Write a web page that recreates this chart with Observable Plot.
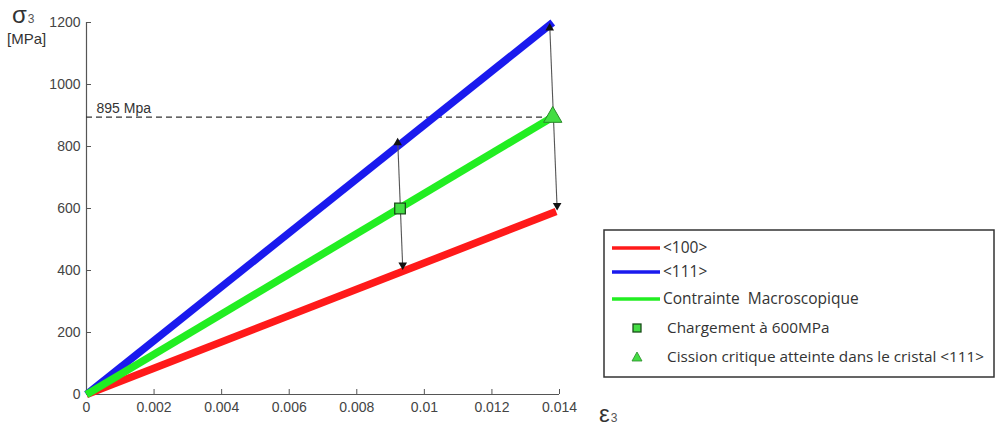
<!DOCTYPE html>
<html>
<head>
<meta charset="utf-8">
<script src="https://cdn.jsdelivr.net/npm/d3@7"></script>
<script src="https://cdn.jsdelivr.net/npm/@observablehq/plot@0.6"></script>
<style>
  body { margin: 0; background: #fff; }
  #wrap { position: relative; width: 996px; height: 427px; overflow: hidden; font-family: "Liberation Sans", Arial, sans-serif; }
  #legend { position: absolute; left: 0; top: 0; }
  #legend text { white-space: pre; }
</style>
</head>
<body>
<div id="wrap"></div>
<script>
// ---- data ----
const seriesNames = ["<100>", "<111>", "Contrainte  Macroscopique"];
const seriesColors = ["#ff1a1a", "#1a1aee", "#22ee22"];
const strainEnd = [0.0139, 0.0138, 0.0138];   // ε3 at end of each line
const stressEnd = [590, 1200, 895];            // σ3 (MPa) at end of each line

const markerNames = ["Chargement à 600MPa", "Cission critique atteinte dans le cristal <111>"];
const markerStrain = [0.00928, 0.0138];
const markerStress = [600, 895];

// arrows: [top, bottom] tips
const arrowTopStrain = [0.00921, 0.01371];
const arrowTopStress = [822, 1192];
const arrowBotStrain = [0.00936, 0.01393];
const arrowBotStress = [408, 600];

const refStress = 895;
const refLabel = "895 Mpa";

const xTicks = [0, 0.002, 0.004, 0.006, 0.008, 0.01, 0.012, 0.014];
const yTicks = [0, 200, 400, 600, 800, 1000, 1200];

// ---- derived tables ----
const lines = [];
seriesNames.forEach((name, i) => {
  lines.push({name, eps: 0, sig: 0});
  lines.push({name, eps: strainEnd[i], sig: stressEnd[i]});
});
const markers = markerNames.map((name, i) => ({name, eps: markerStrain[i], sig: markerStress[i]}));
const arrows = arrowTopStrain.map((_, i) => ({
  x1: arrowTopStrain[i], y1: arrowTopStress[i], x2: arrowBotStrain[i], y2: arrowBotStress[i]
}));
const tops = arrows.map(a => ({eps: a.x1, sig: a.y1}));
const bots = arrows.map(a => ({eps: a.x2, sig: a.y2}));

const tickCol = "#555";
const fmt = d => String(+d.toFixed(3));

const chart = Plot.plot({
  width: 996,
  height: 427,
  marginLeft: 86,
  marginTop: 22,
  marginBottom: 33,
  marginRight: 437,
  style: {fontFamily: "'Liberation Sans', Arial, sans-serif", fontSize: "14px", color: "#444", background: "#fff"},
  x: {domain: [0, 0.014], ticks: xTicks},
  y: {domain: [0, 1200], ticks: yTicks},
  color: {domain: seriesNames, range: seriesColors},
  marks: [
    Plot.axisX({ticks: xTicks, tickFormat: fmt, tickSize: -5, tickPadding: 13, stroke: tickCol, label: null, fontSize: 14}),
    Plot.axisY({ticks: yTicks, tickFormat: d => String(d), tickSize: -5, tickPadding: 11, stroke: tickCol, label: null, fontSize: 14}),
    Plot.ruleX([0], {stroke: tickCol, strokeWidth: 1.2}),
    Plot.ruleY([0], {stroke: tickCol, strokeWidth: 1.2}),
    Plot.ruleY([refStress], {x1: 0, x2: markerStrain[1], stroke: "#333", strokeWidth: 1.2, strokeDasharray: "6,4"}),
    Plot.text([refLabel], {x: 0, y: refStress, text: d => d, textAnchor: "start", dx: 10, dy: -9, fontSize: 14, fill: "#333"}),
    Plot.line(lines, {x: "eps", y: "sig", z: "name", stroke: "name", strokeWidth: 7.5, strokeLinecap: "butt"}),
    Plot.link(arrows, {x1: "x1", y1: "y1", x2: "x2", y2: "y2", stroke: "#555", strokeWidth: 1.1}),
    Plot.dot(tops, {x: "eps", y: "sig", symbol: "triangle", r: 3.2, fill: "#111", stroke: "none", dy: 3}),
    Plot.dot(bots, {x: "eps", y: "sig", symbol: "triangle", r: 3.2, fill: "#111", stroke: "none", rotate: 180, dy: -3}),
    Plot.dot([markers[0]], {x: "eps", y: "sig", symbol: "square", r: 6, fill: "#44dd44", stroke: "#1a4d1a", strokeWidth: 1.3}),
    Plot.dot([markers[1]], {x: "eps", y: "sig", symbol: "triangle", r: 6.8, fill: "#44dd44", stroke: "#2a8a2a", strokeWidth: 1})
  ]
});

const wrap = document.getElementById("wrap");
wrap.appendChild(chart);

// overlay: axis titles + legend
const NS = "http://www.w3.org/2000/svg";
const lg = document.createElementNS(NS, "svg");
lg.setAttribute("id", "legend");
lg.setAttribute("width", 996);
lg.setAttribute("height", 427);
lg.style.pointerEvents = "none";
function el(tag, attrs, text, parent) {
  const e = document.createElementNS(NS, tag);
  for (const k in attrs) e.setAttribute(k, attrs[k]);
  if (text != null) e.textContent = text;
  (parent || lg).appendChild(e);
  return e;
}
function subLabel(main, sub, x, y) {
  const t = el("text", {x, y, "font-family": "'Liberation Sans', Arial, sans-serif", "font-size": 24, fill: "#333"});
  el("tspan", {}, main, t);
  el("tspan", {"font-size": 12, dx: 1, fill: "#555"}, sub, t);
}
subLabel("σ", "3", 12, 23);
el("text", {x: 7, y: 44, "font-family": "'Liberation Sans', Arial, sans-serif", "font-size": 15, fill: "#333"}, "[MPa]");
subLabel("ε", "3", 599, 422);

const legFont = "'Open Sans', Lato, sans-serif";
el("rect", {x: 604, y: 230, width: 390, height: 147, fill: "#fff", stroke: "#333", "stroke-width": 1.5});
const lineRows = [248, 272, 299];
seriesNames.forEach((name, i) => {
  el("line", {x1: 612, x2: 660, y1: lineRows[i], y2: lineRows[i], stroke: seriesColors[i], "stroke-width": 3.5});
  el("text", {x: 663, y: lineRows[i], dy: "0.35em", "font-family": legFont, "font-size": 15.5, fill: "#333"}, name);
});
const markRows = [328, 357];
el("rect", {x: 633, y: markRows[0] - 4, width: 8, height: 8, fill: "#44dd44", stroke: "#1a4d1a", "stroke-width": 1.3});
el("path", {d: `M637,${markRows[1] - 5}L642,${markRows[1] + 4}L632,${markRows[1] + 4}Z`, fill: "#44dd44", stroke: "#2a8a2a", "stroke-width": 0.8});
markerNames.forEach((name, i) => {
  el("text", {x: 667, y: markRows[i], dy: "0.35em", "font-family": legFont, "font-size": 15.3, fill: "#333"}, name);
});
wrap.appendChild(lg);
</script>
</body>
</html>
